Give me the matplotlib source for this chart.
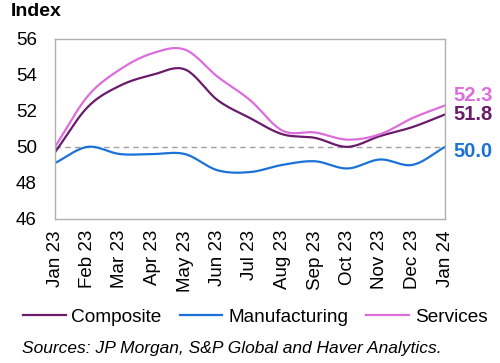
import numpy as np
import matplotlib
matplotlib.use("Agg")
import matplotlib.pyplot as plt

plt.rcParams['font.family'] = ['Liberation Sans', 'DejaVu Sans']

months = ["Jan 23", "Feb 23", "Mar 23", "Apr 23", "May 23", "Jun 23", "Jul 23",
          "Aug 23", "Sep 23", "Oct 23", "Nov 23", "Dec 23", "Jan 24"]
composite = [49.7, 52.2, 53.4, 54.0, 54.3, 52.6, 51.6, 50.7, 50.5, 50.0, 50.6, 51.1, 51.8]
manufacturing = [49.1, 50.0, 49.6, 49.6, 49.6, 48.7, 48.6, 49.0, 49.2, 48.8, 49.3, 49.0, 50.0]
services = [50.0, 52.8, 54.3, 55.2, 55.4, 53.9, 52.6, 50.9, 50.8, 50.4, 50.7, 51.6, 52.3]

c_comp = "#6a1b6b"
c_manu = "#1a72d9"
c_serv = "#dd6ddd"


def smooth(y, n=20):
    # catmull-rom through the monthly points
    y = np.asarray(y, dtype=float)
    p = np.concatenate([[2 * y[0] - y[1]], y, [2 * y[-1] - y[-2]]])
    xs, ys = [], []
    t = np.linspace(0, 1, n, endpoint=False)
    for i in range(len(y) - 1):
        p0, p1, p2, p3 = p[i], p[i + 1], p[i + 2], p[i + 3]
        seg = 0.5 * (2 * p1 + (-p0 + p2) * t + (2 * p0 - 5 * p1 + 4 * p2 - p3) * t ** 2
                     + (-p0 + 3 * p1 - 3 * p2 + p3) * t ** 3)
        xs.extend(i + t)
        ys.extend(seg)
    xs.append(len(y) - 1)
    ys.append(y[-1])
    return np.array(xs), np.array(ys)


fig = plt.figure(figsize=(5, 3.63), dpi=100)
ax = fig.add_axes([0.11, 0.397, 0.78, 0.496])

ax.axhline(50, color="#a0a0a0", lw=1, ls=(0, (4, 3)), zorder=1)
for vals, col, name in [(composite, c_comp, "Composite"),
                        (manufacturing, c_manu, "Manufacturing"),
                        (services, c_serv, "Services")]:
    xs, ys = smooth(vals)
    ax.plot(xs, ys, color=col, lw=1.6, label=name, zorder=2)

ax.set_xlim(0, len(months) - 1)
ax.set_ylim(46, 56)
ax.set_yticks(range(46, 57, 2))
ax.set_xticks(range(len(months)))
ax.set_xticklabels(months, rotation=90)
ax.tick_params(length=0, labelsize=13.5)
ax.tick_params(axis="y", pad=13)
ax.tick_params(axis="x", pad=8)
for s in ax.spines.values():
    s.set_color("#b0b0b0")
    s.set_linewidth(1)

last = len(months) - 1
ax.annotate(f"{services[-1]:.1f}", (last, services[-1]), xytext=(6, 7), textcoords="offset points",
            color=c_serv, fontsize=14.5, fontweight="bold", va="center", annotation_clip=False)
ax.annotate(f"{composite[-1]:.1f}", (last, composite[-1]), xytext=(6, 0), textcoords="offset points",
            color=c_comp, fontsize=14.5, fontweight="bold", va="center", annotation_clip=False)
ax.annotate(f"{manufacturing[-1]:.1f}", (last, manufacturing[-1]), xytext=(6, -3), textcoords="offset points",
            color=c_manu, fontsize=14.5, fontweight="bold", va="center", annotation_clip=False)

fig.text(0.022, 0.967, "Index", fontsize=14, fontweight="bold", va="center")

fig.legend(loc="center", bbox_to_anchor=(0.51, 0.127), ncol=3, frameon=False, fontsize=13.7,
           handlelength=2.25, handletextpad=0.3, columnspacing=0.95)

fig.text(0.044, 0.041, "Sources: JP Morgan, S&P Global and Haver Analytics.",
         fontsize=12.5, style="italic", va="center")

fig.savefig("out.png", dpi=100)
